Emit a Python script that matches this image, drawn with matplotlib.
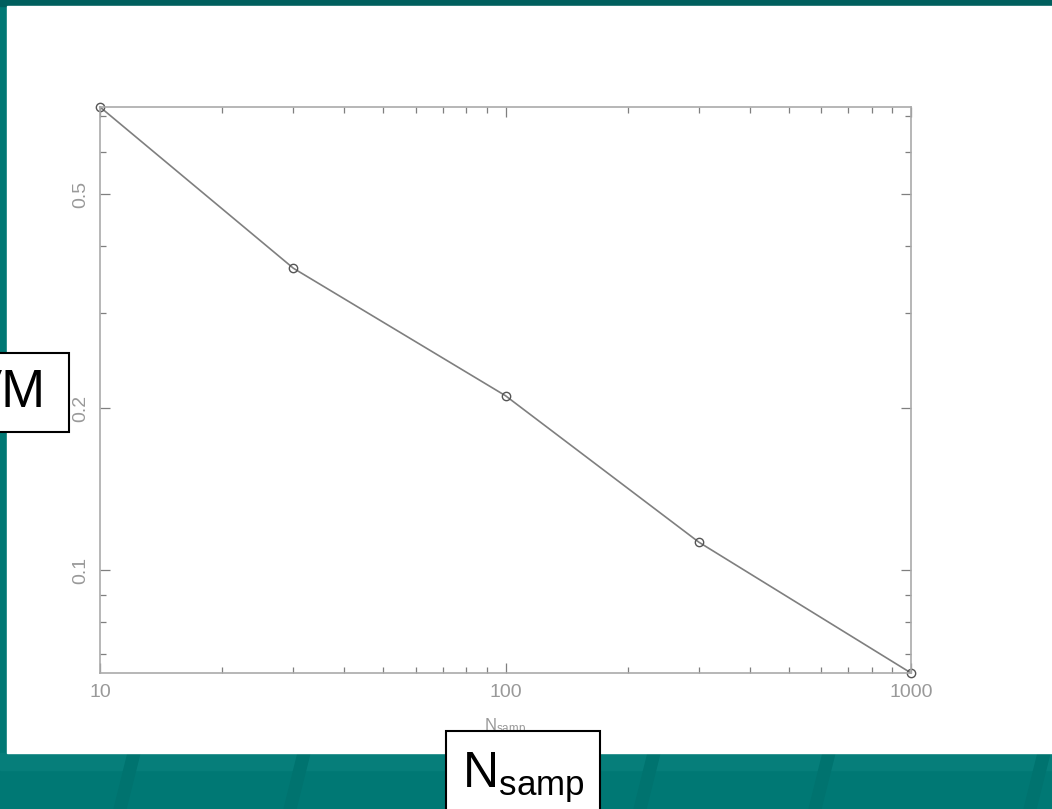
import matplotlib
matplotlib.use('Agg')
import matplotlib.pyplot as plt
from matplotlib.patches import Rectangle, Polygon
from matplotlib.ticker import LogLocator, NullFormatter, FixedLocator, FixedFormatter

# data
n_samp = [10, 30, 100, 300, 1000]
ratio = [0.726, 0.364, 0.211, 0.1127, 0.0644]
x_ticks = [10, 100, 1000]
x_labels = ['10', '100', '1000']
y_ticks = [0.1, 0.2, 0.5]
y_labels = ['0.1', '0.2', '0.5']

plt.rcParams['font.family'] = ['Liberation Sans', 'DejaVu Sans']
plt.rcParams['mathtext.fontset'] = 'custom'
plt.rcParams['mathtext.rm'] = 'Liberation Sans'
plt.rcParams['mathtext.it'] = 'Liberation Sans:italic'

W, H = 1052, 809
teal = '#007874'
grey = '#7f7f7f'

fig = plt.figure(figsize=(W / 100, H / 100), dpi=100, facecolor=teal)

def px_rect(x0, y0, x1, y1, **kw):
    # rectangle given in pixel coords (origin top left)
    return Rectangle((x0 / W, 1 - y1 / H), (x1 - x0) / W, (y1 - y0) / H,
                     transform=fig.transFigure, **kw)

# slide background
fig.patches.append(px_rect(0, 0, W, 6, color='#005f5e', zorder=-3))
fig.patches.append(px_rect(0, 753, W, 770, color='#067e7a', zorder=-3))
for xs in [120, 290, 465, 640, 815, 1030]:
    fig.patches.append(Polygon([((xs + 8) / W, 1 - 753 / H), ((xs + 20) / W, 1 - 753 / H),
                                ((xs + 6) / W, 0), ((xs - 6) / W, 0)],
                               closed=True, transform=fig.transFigure,
                               color='#00736f', zorder=-2))
fig.patches.append(px_rect(7, 6, W, 753, color='white', zorder=-1))

ax = fig.add_axes([100 / W, 1 - 673 / H, 811 / W, 566 / H])
ax.plot(n_samp, ratio, color=grey, lw=1.2, marker='o', ms=6, mfc='none',
        mec='#555555', mew=1.0, clip_on=False)
ax.set_xscale('log')
ax.set_yscale('log')
ax.set_xlim(n_samp[0], n_samp[-1])
ax.set_ylim(min(ratio), max(ratio))

ax.xaxis.set_major_locator(FixedLocator(x_ticks))
ax.xaxis.set_major_formatter(FixedFormatter(x_labels))
ax.xaxis.set_minor_locator(LogLocator(base=10, subs=range(2, 10)))
ax.xaxis.set_minor_formatter(NullFormatter())
ax.yaxis.set_major_locator(FixedLocator(y_ticks))
ax.yaxis.set_major_formatter(FixedFormatter(y_labels))
ax.yaxis.set_minor_locator(LogLocator(base=10, subs=range(2, 10)))
ax.yaxis.set_minor_formatter(NullFormatter())

ax.tick_params(which='both', direction='in', top=True, right=True, color=grey,
               labelcolor='#999999', labelsize=14, pad=8)
ax.tick_params(which='major', length=7, width=0.9)
ax.tick_params(which='minor', length=4, width=0.9)
for lab in ax.get_yticklabels():
    lab.set_rotation(90)
    lab.set_va('center')
for s in ax.spines.values():
    s.set_color('#aaaaaa')
    s.set_linewidth(1.2)

ax.set_xlabel(r'N$_{\rm samp}$', color='#999999', fontsize=12, labelpad=11)

# label boxes pasted on top
fig.patches.append(px_rect(-5, 353, 69, 432, facecolor='white', edgecolor='black', lw=1.5, zorder=4))
fig.patches.append(px_rect(446, 731, 600, 830, facecolor='white', edgecolor='black', lw=1.5, zorder=4))

fig.text(46 / W, 1 - 393 / H, 'VM', ha='right', va='center', fontsize=38, zorder=5)
fig.text(523 / W, 1 - 778 / H, r'N$_{\rm samp}$', ha='center', va='center',
         fontsize=36, zorder=5)

fig.savefig('out.png', dpi=100, facecolor=teal)
